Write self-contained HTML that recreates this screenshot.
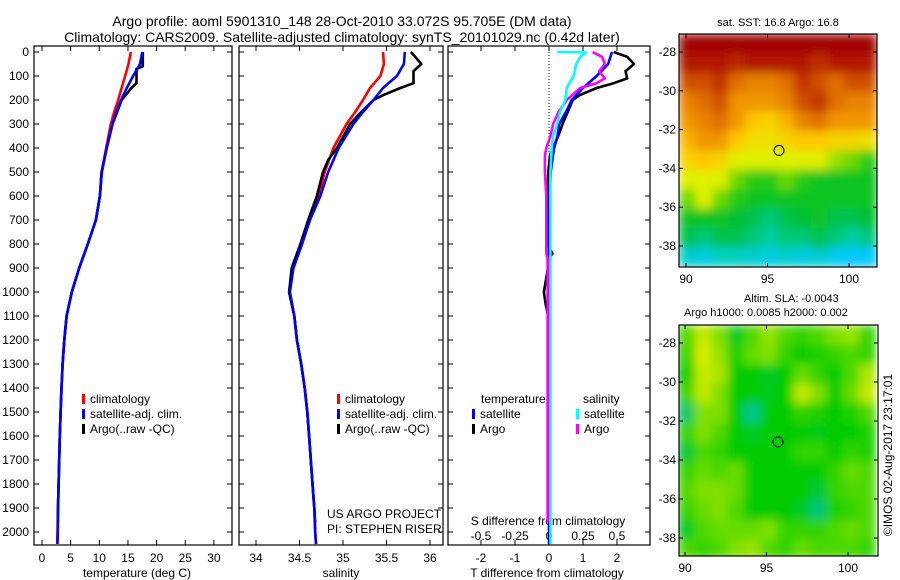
<!DOCTYPE html>
<html><head><meta charset="utf-8"><style>
html,body{margin:0;padding:0;background:#fff;}
svg{display:block;font-family:"Liberation Sans",sans-serif;}
</style></head><body>
<svg id="fig" width="900" height="580" viewBox="0 0 900 580" xmlns="http://www.w3.org/2000/svg">
<defs>
<filter id="blur" x="0" y="0" width="1" height="1"><feGaussianBlur stdDeviation="5" edgeMode="duplicate"/></filter>
<clipPath id="clip1"><rect x="679" y="34" width="198" height="233"/></clipPath>
<clipPath id="clip2"><rect x="679" y="325" width="199" height="231"/></clipPath>
</defs>
<text x="342" y="26" font-size="14" text-anchor="middle">Argo profile: aoml 5901310_148 28-Oct-2010 33.072S 95.705E (DM data)</text>
<text x="342" y="42" font-size="14" text-anchor="middle">Climatology: CARS2009. Satellite-adjusted climatology: synTS_20101029.nc (0.42d later)</text>
<g id="g"></g>
</svg>
<script>
// ---------- data ----------
const tDepth = [0,50,100,150,200,250,300,400,500,600,700,800,900,1000,1100,1200,1300,1400,1500,1600,1700,1800,1900,2000,2050];
const tClim  = [15.5,15.1,14.5,13.9,13.3,12.6,12.0,11.2,10.4,10.1,9.4,8.0,6.5,5.2,4.3,3.9,3.6,3.4,3.25,3.1,3.0,2.9,2.8,2.7,2.65];
const tSat   = [17.5,17.1,15.9,14.8,13.8,13.0,12.3,11.3,10.45,10.1,9.4,8.0,6.5,5.2,4.3,3.9,3.6,3.4,3.25,3.1,3.0,2.9,2.8,2.75,2.7];
const aDepth = [0,60,70,130,150,200,250,300,400,500,600,700,800,900,1000,1100,1200,1300,1400,1500,1600,1700,1800,1900,1960];
const tArgo  = [17.6,17.6,16.5,16.5,15.6,13.9,13.1,12.3,11.3,10.4,10.1,9.4,8.0,6.5,5.2,4.3,3.9,3.6,3.4,3.25,3.1,3.0,2.9,2.8,2.75];
const sClim  = [35.46,35.47,35.43,35.31,35.23,35.14,35.04,34.89,34.79,34.72,34.62,34.52,34.43,34.38,34.44,34.47,34.52,34.56,34.59,34.61,34.63,34.65,34.67,34.68,34.69];
const sSat   = [35.71,35.70,35.62,35.46,35.35,35.23,35.12,34.95,34.83,34.74,34.62,34.53,34.43,34.39,34.44,34.47,34.52,34.56,34.59,34.61,34.63,34.65,34.67,34.68,34.69];
const saDepth= [0,20,50,80,130,150,180,200,250,300,400,450,500,600,700,800,900,1000,1100,1200,1300,1400,1500,1600,1700,1800,1900,1960];
const sArgo  = [35.78,35.83,35.90,35.81,35.81,35.66,35.46,35.35,35.21,35.08,34.93,34.83,34.77,34.70,34.60,34.51,34.41,34.38,34.44,34.47,34.52,34.56,34.59,34.61,34.63,34.65,34.67,34.68];
const dDepth = [0,20,50,80,110,130,150,180,200,250,300,350,400,430,500,600,800,840,860,900,1000,1050,1100,1400,1800,1960];
const dTArgo = [1.9,2.3,2.5,2.25,2.3,1.9,1.4,0.9,0.7,0.55,0.4,0.27,0.12,0.03,-0.02,-0.05,-0.05,0.1,-0.02,-0.03,-0.15,-0.1,-0.02,0,0,0];
const dSArgo = [0.32,0.39,0.41,0.37,0.41,0.35,0.23,0.17,0.13,0.07,0.03,0.01,-0.02,-0.03,-0.03,-0.02,-0.02,-0.02,-0.01,-0.01,-0.01,-0.01,-0.01,-0.01,-0.01,-0.01];
const sdDepth= [0,50,100,150,200,250,300,350,400,500,600,800,1000,1200,1500,2000,2050];
const dTSat  = [1.85,1.74,1.4,1.0,0.67,0.5,0.3,0.25,0.15,0.05,0.02,0,0,0,0,0,0];
const cDepth = [0,2,20,50,100,150,200,250,300,350,400,500,700,1000,1500,2000,2050];
const dSSat  = [0.06,0.27,0.23,0.2,0.18,0.13,0.12,0.08,0.06,0.03,0.02,0.01,0.01,0.01,0.01,0.01,0.01];
const depthTicks = [0,100,200,300,400,500,600,700,800,900,1000,1100,1200,1300,1400,1500,1600,1700,1800,1900,2000];
const tTicks = [0,5,10,15,20,25,30];
const sTicks = [34,34.5,35,35.5,36];
const dtTicks = [-2,-1,0,1,2];
const dsTicks = [-0.5,-0.25,0,0.25,0.5];
const dsLabels = ["-0.5","-0.25","0","0.25","0.5"];
const latTicks = [-28,-30,-32,-34,-36,-38];
const lonTicks = [90,95,100];
const sstGrid = [
[1,1,1,1,1,1,1,1,1,1,1,1],
[0.95,0.95,0.95,0.92,0.95,0.95,0.95,0.95,0.9,0.95,0.95,0.95],
[0.85,0.85,0.9,0.8,0.75,0.75,0.8,0.9,0.85,0.8,0.85,0.85],
[0.75,0.8,0.85,0.7,0.7,0.7,0.75,0.85,0.9,0.8,0.75,0.75],
[0.7,0.75,0.8,0.7,0.62,0.6,0.65,0.75,0.8,0.7,0.7,0.7],
[0.65,0.7,0.7,0.62,0.58,0.58,0.6,0.62,0.62,0.6,0.6,0.58],
[0.6,0.62,0.6,0.55,0.55,0.55,0.55,0.55,0.55,0.52,0.5,0.45],
[0.55,0.55,0.55,0.5,0.45,0.45,0.5,0.45,0.42,0.42,0.42,0.42],
[0.5,0.55,0.5,0.45,0.42,0.42,0.42,0.42,0.42,0.42,0.42,0.42],
[0.42,0.42,0.42,0.4,0.38,0.35,0.38,0.4,0.42,0.38,0.38,0.4],
[0.38,0.35,0.38,0.38,0.35,0.32,0.35,0.35,0.38,0.35,0.32,0.35],
[0.28,0.25,0.3,0.3,0.28,0.25,0.28,0.25,0.28,0.22,0.2,0.2]];
const slaGrid = [
[0.3,0.8,0.5,-0.2,0.3,0.6,0.3,0.2,0.3,0.5,0.6,0.2],
[0.2,0.9,0.6,0.1,0.4,0.5,0.2,0,0.1,0.2,0.3,0.2],
[0,0.8,0.7,0,0,-0.2,0,0.4,0.2,0,0.3,0.7],
[0.2,0.8,0.5,0,0,-0.1,0,0.8,0.5,0,0.4,0.8],
[-0.6,0.5,0.5,0,-0.8,0,0,0.2,0.1,0,0.1,0.3],
[0.2,0.5,0.3,0,-0.2,0,0,0,-0.1,0,0,0.1],
[-0.3,0.3,0.2,0,0,0,0,0.2,0.2,0,0.2,0.1],
[0.2,0.4,0.3,0.4,0,0,0,0,0,0.2,0.4,0.3],
[0.3,0.5,0.5,0.4,0,0,0,0,-0.3,0.2,0.3,0.3],
[0.2,0.4,0.5,0.3,0,0,0,-0.2,-0.7,0.1,0.2,0.3],
[-0.2,0.3,0.4,0.4,0.4,0.5,0.2,0.2,0.2,0.3,0.4,0.3],
[0.3,0.2,0.3,0.5,0.6,0.3,0.2,0.4,0.3,0.3,0.3,0.2]];
const argoLon = 95.705, argoLat = -33.072;

// ---------- scales ----------
const yD = d => 52 + d*0.24;
const xT = t => 42 + t*5.73;
const xS = s => 256 + (s-34)*87;
const xDT = v => 549 + v*34;
const xDS = v => 549 + v*136;
const m1x = lon => 686 + (lon-90)*16.3;
const m1y = lat => 52 + (-28-lat)*19.4;
const m2x = lon => 685 + (lon-90)*16.3;
const m2y = lat => 343 + (-28-lat)*19.5;

const NS="http://www.w3.org/2000/svg";
const G=document.getElementById('g');
function el(tag,attrs,parent){const e=document.createElementNS(NS,tag);for(const k in attrs)e.setAttribute(k,attrs[k]);(parent||G).appendChild(e);return e;}
function txt(x,y,s,size,anchor,parent){const t=el('text',{x:x,y:y,'font-size':size,'text-anchor':anchor||'start'},parent);t.textContent=s;return t;}

const panels=[{x0:34,x1:232,name:'temperature-panel'},{x0:239,x1:443,name:'salinity-panel'},{x0:448,x1:650,name:'difference-panel'}];
const pTop=46,pBot=545;
panels.forEach(p=>{
  const g=el('g',{});
  
  
  const r=el('rect',{x:p.x0,y:pTop,width:p.x1-p.x0,height:pBot-pTop,fill:'none',stroke:'#000','stroke-width':1.2},g);
  
  
  depthTicks.forEach(d=>{
    el('line',{x1:p.x0,x2:p.x0+5,y1:yD(d),y2:yD(d),stroke:'#000'},g);
    el('line',{x1:p.x1,x2:p.x1-5,y1:yD(d),y2:yD(d),stroke:'#000'},g);
  });
});
depthTicks.forEach(d=>{const t=txt(29,yD(d)+4,String(d),12,'end');
  
  });
function xticks(vals,labels,fx,y0,y1,ly){vals.forEach((v,i)=>{
  el('line',{x1:fx(v),x2:fx(v),y1:y0,y2:y0+5,stroke:'#000'});
  el('line',{x1:fx(v),x2:fx(v),y1:y1,y2:y1-5,stroke:'#000'});
  if(ly){const t=txt(fx(v),ly,labels[i],12,'middle');
  
  }
});}
xticks(tTicks,tTicks.map(String),xT,pTop,pBot,562);
xticks(sTicks,sTicks.map(String),xS,pTop,pBot,562);
xticks(dtTicks,dtTicks.map(String),xDT,pTop,pBot,562);
dsTicks.forEach((v,i)=>{const t=txt(xDS(v),540,dsLabels[i],12,'middle');
  
  });
[[137,'temperature (deg C)'],[341,'salinity'],[547,'T difference from climatology']].forEach(a=>{
  const t=txt(a[0],577,a[1],12,'middle');
  
  });
{const t=txt(548,525,'S difference from climatology',12,'middle');
  
  }
{const l=el('line',{x1:549,x2:549,y1:pTop,y2:yD(420),stroke:'#000','stroke-dasharray':'1,2'});
  
  }

function series(depths,vals,fx,color,name){
  const pts=depths.map((d,i)=>fx(vals[i]).toFixed(1)+','+yD(d).toFixed(1)).join(' ');
  const pl=el('polyline',{points:pts,fill:'none',stroke:color,'stroke-width':2.6,'stroke-linejoin':'round'});
  
  
}
series(tDepth,tClim,xT,'#ff0000','temp-climatology-line');
series(aDepth,tArgo,xT,'#000000','temp-argo-line');
series(tDepth,tSat,xT,'#0000ff','temp-satellite-line');
series(tDepth,sClim,xS,'#ff0000','sal-climatology-line');
series(saDepth,sArgo,xS,'#000000','sal-argo-line');
series(tDepth,sSat,xS,'#0000ff','sal-satellite-line');
series(dDepth,dTArgo,xDT,'#000000','tdiff-argo-line');
series(sdDepth,dTSat,xDT,'#0000ff','tdiff-satellite-line');
series(dDepth,dSArgo,xDS,'#ff00ff','sdiff-argo-line');
series(cDepth,dSSat,xDS,'#00ffff','sdiff-satellite-line');

function legendEntry(x,y,color,label){
  const g=el('g',{});
  
  
  el('rect',{x:x,y:y-9,width:3,height:10,fill:color},g);
  txt(x+8,y,label,12,'start',g);
}
[[82,'#ff0000','climatology'],[82,'#0000ff','satellite-adj. clim.'],[82,'#000','Argo(..raw -QC)']].forEach((a,i)=>legendEntry(a[0],403+i*15,a[1],a[2]));
[[337,'#ff0000','climatology'],[337,'#0000ff','satellite-adj. clim.'],[337,'#000','Argo(..raw -QC)']].forEach((a,i)=>legendEntry(a[0],403+i*15,a[1],a[2]));
{const t=txt(481,403,'temperature',12);}
{const t=txt(583,403,'salinity',12);}
legendEntry(472,418,'#0000ff','satellite');legendEntry(472,433,'#000','Argo');
legendEntry(576,418,'#00ffff','satellite');legendEntry(576,433,'#ff00ff','Argo');
{const t=txt(327,518,'US ARGO PROJECT',12);}
{const t=txt(327,533,'PI: STEPHEN RISER',12);}

function lerpCol(stops,v){v=Math.max(stops[0][0],Math.min(stops[stops.length-1][0],v));
  for(let i=1;i<stops.length;i++){if(v<=stops[i][0]){const a=stops[i-1],b=stops[i],f=(v-a[0])/(b[0]-a[0]);
    const c=a[1].map((x,k)=>Math.round(x+(b[1][k]-x)*f));return 'rgb('+c.join(',')+')';}}
  return 'rgb('+stops[stops.length-1][1].join(',')+')';}
const sstStops=[[0,[0,96,255]],[0.2,[0,200,255]],[0.3,[0,208,192]],[0.4,[0,192,48]],[0.48,[60,208,0]],[0.55,[224,240,0]],[0.62,[255,200,0]],[0.7,[240,150,0]],[0.8,[224,112,0]],[0.9,[192,48,0]],[1,[160,0,0]]];
const slaStops=[[-1,[0,192,176]],[0,[0,204,0]],[0.5,[128,224,0]],[1,[240,240,0]]];
function drawMap(grid,stops,clip,fx,fy,latTop,name){
  const g=el('g',{'clip-path':'url(#'+clip+')'});
  const gi=el('g',{filter:'url(#blur)'},g);
  
  
  grid.forEach((row,r)=>row.forEach((v,c)=>{
    const lon0=89.57+c*1.011, lat0=latTop-r*1.0;
    const x0=fx(lon0),x1=fx(lon0+1.011),y0=fy(lat0),y1=fy(lat0-1);
    const rc=el('rect',{x:x0,y:y0,width:x1-x0+0.6,height:y1-y0+0.6,fill:lerpCol(stops,v)},gi);
    
    
  }));
}
drawMap(sstGrid,sstStops,'clip1',m1x,m1y,-27.07,'sst-map');
drawMap(slaGrid,slaStops,'clip2',m2x,m2y,-27.08,'sla-map');
function mapFrame(x,y,w,h,fx,fy){
  const r=el('rect',{x:x,y:y,width:w,height:h,fill:'none',stroke:'#000','stroke-width':1.2});
  
  
  latTicks.forEach(l=>{el('line',{x1:x,x2:x+4,y1:fy(l),y2:fy(l),stroke:'#000'});el('line',{x1:x+w,x2:x+w-4,y1:fy(l),y2:fy(l),stroke:'#000'});
    const t=txt(x-3,fy(l)+4,String(l),12,'end');});
  lonTicks.forEach(l=>{el('line',{x1:fx(l),x2:fx(l),y1:y,y2:y+4,stroke:'#000'});el('line',{x1:fx(l),x2:fx(l),y1:y+h,y2:y+h-4,stroke:'#000'});
    const t=txt(fx(l),y+h+16,String(l),12,'middle');});
}
mapFrame(679,34,198,233,m1x,m1y);
mapFrame(679,325,199,231,m2x,m2y);
[[m1x,m1y],[m2x,m2y]].forEach(f=>{const c=el('circle',{cx:f[0](argoLon),cy:f[1](argoLat),r:5,fill:'none',stroke:'#000','stroke-width':1});
  
  });
{const t=txt(778,26,'sat. SST: 16.8 Argo: 16.8',11,'middle');}
{const t=txt(744,302,'Altim. SLA: -0.0043',11,'start');}
{const t=txt(684,316,'Argo h1000: 0.0085 h2000: 0.002',11,'start');}
{const t=txt(0,0,'©IMOS 02-Aug-2017 23:17:01',12,'middle');t.setAttribute('transform','translate(892,455) rotate(-90)');
  
  }
</script>
</body></html>
